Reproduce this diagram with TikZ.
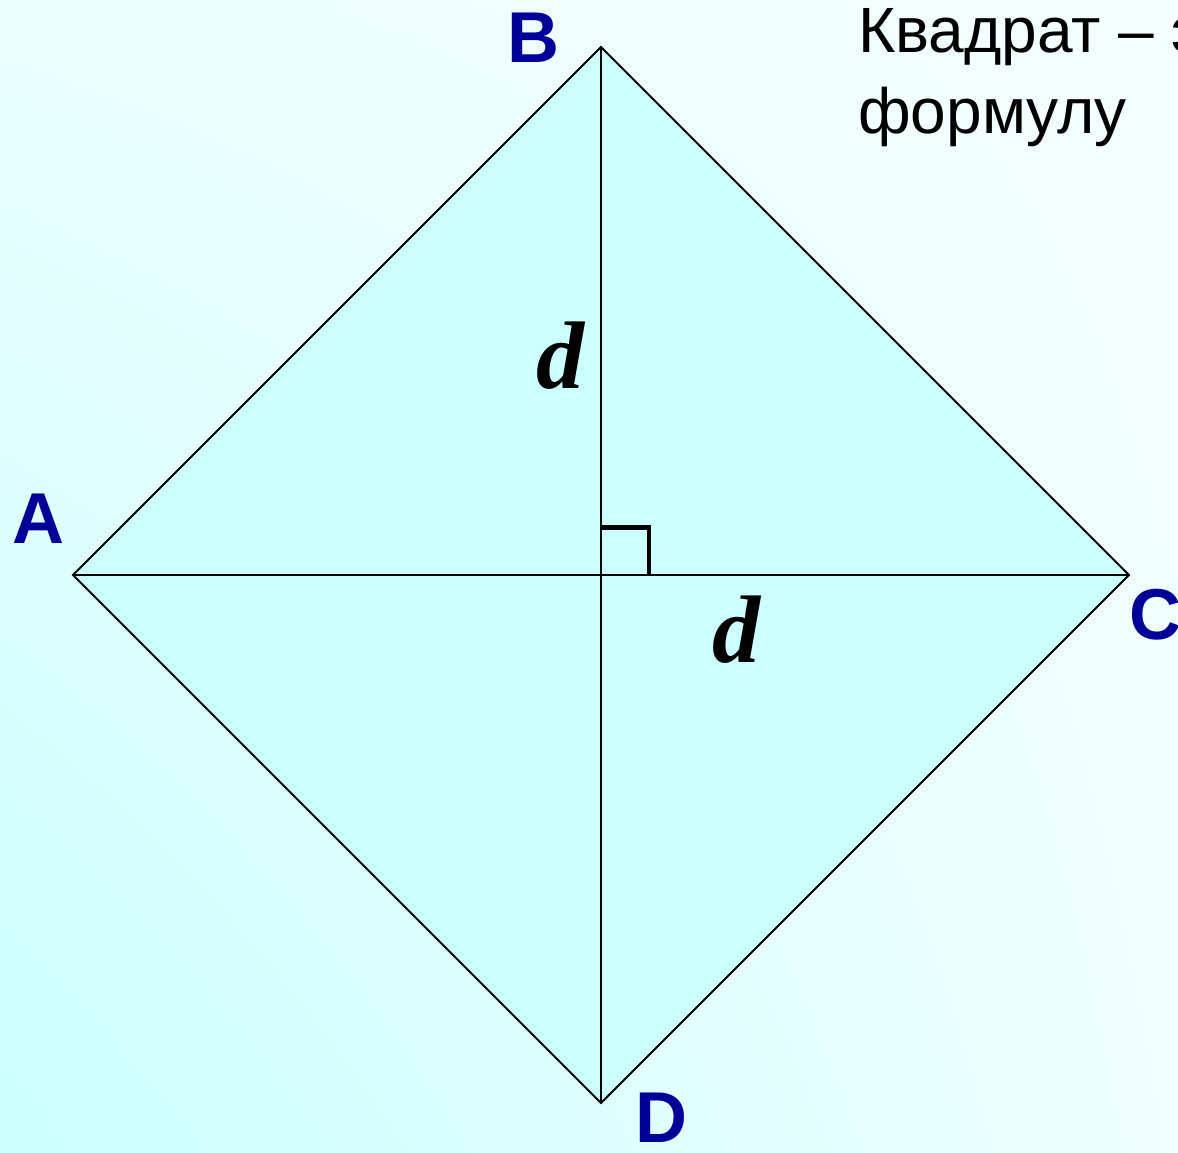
\documentclass[tikz,border=0pt]{standalone}
\usepackage{fontspec}
\usetikzlibrary{shadings}
\setmainfont{Liberation Sans}
\newfontfamily\labelfont{Liberation Sans}
\newfontfamily\dfont{Liberation Serif}
\definecolor{labelblue}{HTML}{000099}
\definecolor{sqfill}{HTML}{CCFFFF}
\definecolor{bgul}{HTML}{ECFFFF}
\definecolor{bgur}{HTML}{F5FFFF}
\definecolor{bglr}{HTML}{F0FFFF}
\begin{document}
\begin{tikzpicture}[x=1pt,y=-1pt,
  vlabel/.style={inner sep=0pt, anchor=base west, text=labelblue, font=\labelfont\bfseries\fontsize{72}{80}\selectfont},
  dlabel/.style={inner sep=0pt, anchor=base west, text=black, font=\dfont\bfseries\itshape\fontsize{96}{100}\selectfont},
  bodytext/.style={inner sep=0pt, anchor=base west, text=black, font=\fontsize{64}{70}\selectfont},
  edge/.style={draw=black, line width=2pt, line join=miter},
  rightmark/.style={draw=black, line width=4.5pt, line join=miter}]
\useasboundingbox (0,0) rectangle (1178,1152);
\clip (0,0) rectangle (1178,1152);
\shade[lower left=sqfill, upper left=bgul, upper right=bgur, lower right=bglr] (0,0) rectangle (1178,1152);

\coordinate (A) at (73,575);
\coordinate (B) at (601,47);
\coordinate (C) at (1129,575);
\coordinate (D) at (601,1103);
\coordinate (O) at (601,575);
\coordinate (R1) at (601,527.5);
\coordinate (R2) at (649,527.5);
\coordinate (R3) at (649,575);

\fill[sqfill] (A) -- (B) -- (C) -- (D) -- cycle;
\draw[rightmark] (R1) -- (R2) -- (R3);
\draw[edge] (A) -- (C);
\draw[edge] (B) -- (D);
\draw[edge] (A) -- (B) -- (C) -- (D) -- cycle;

\node[vlabel] (lB) at (507,62) {B};
\node[vlabel] (lA) at (12,543) {A};
\node[vlabel] (lC) at (1129,639) {C};
\node[vlabel] (lD) at (635,1142) {D};

\node[dlabel] (d1) at (536,388) {d};
\node[dlabel] (d2) at (712,662) {d};

\node[bodytext] (t1) at (858,52) {Квадрат – э};
\node[bodytext] (t2) at (858,133) {формулу};
\end{tikzpicture}
\end{document}
